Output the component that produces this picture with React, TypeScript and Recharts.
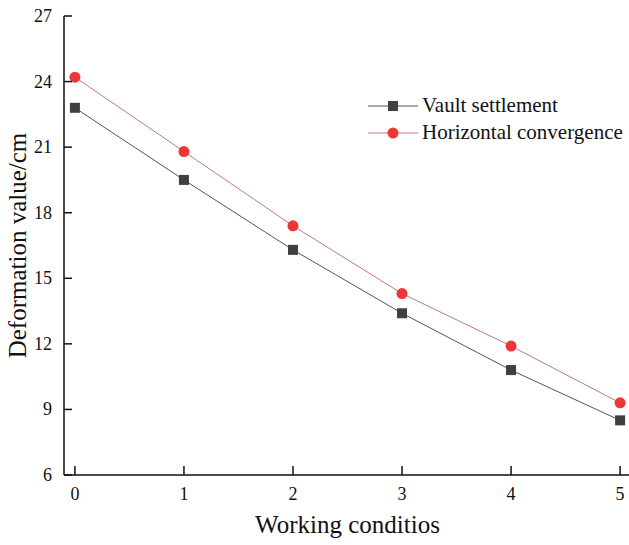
import React from 'react';
import { LineChart, Line, XAxis, YAxis } from 'recharts';

const conditions = [0, 1, 2, 3, 4, 5];
const vaultSettlement = [22.8, 19.5, 16.3, 13.4, 10.8, 8.5];
const horizontalConvergence = [24.2, 20.8, 17.4, 14.3, 11.9, 9.3];
const yTicks = [6, 9, 12, 15, 18, 21, 24, 27];

const data = conditions.map((c, i) => ({
  c,
  vault: vaultSettlement[i],
  horiz: horizontalConvergence[i],
}));

const FONT = '"Liberation Serif", "Times New Roman", serif';
const INK = '#111';
const VAULT_COLOR = '#404040';
const VAULT_LINE = '#555555';
const HORIZ_COLOR = '#ee3636';
const HORIZ_LINE = '#c07a7a';

const SquareDot = (p: any) => (
  <rect key={`sq-${p.index}`} x={p.cx - 5} y={p.cy - 5} width={10} height={10} fill={VAULT_COLOR} />
);

const CircleDot = (p: any) => (
  <circle key={`ci-${p.index}`} cx={p.cx} cy={p.cy} r={5.5} fill={HORIZ_COLOR} />
);

// ticks point into the plot, so draw them ourselves next to the labels
const XTick = (p: any) => (
  <g>
    <line x1={p.x} x2={p.x} y1={p.y - 13} y2={p.y - 22} stroke={INK} strokeWidth={1.5} />
    <text x={p.x} y={p.y + 12} textAnchor="middle" fill={INK} fontSize={18} fontFamily={FONT}>
      {p.payload.value}
    </text>
  </g>
);

const YTick = (p: any) => (
  <g>
    <line x1={p.x + 12} x2={p.x + 20} y1={p.y} y2={p.y} stroke={INK} strokeWidth={1.5} />
    <text x={p.x} y={p.y + 6} textAnchor="end" fill={INK} fontSize={18} fontFamily={FONT}>
      {p.payload.value}
    </text>
  </g>
);

function LegendBox() {
  const rows = [
    { name: 'Vault settlement', line: VAULT_LINE, kind: 'square' },
    { name: 'Horizontal convergence', line: HORIZ_LINE, kind: 'circle' },
  ];
  return (
    <div style={{ position: 'absolute', left: 368, top: 92, fontFamily: FONT, fontSize: 21, color: INK }}>
      {rows.map((r) => (
        <div key={r.name} style={{ display: 'flex', alignItems: 'center', height: 27 }}>
          <svg width={50} height={14} style={{ marginRight: 4 }}>
            <line x1={0} y1={7} x2={50} y2={7} stroke={r.line} strokeWidth={1} />
            {r.kind === 'square' ? (
              <rect x={20} y={2} width={10} height={10} fill={VAULT_COLOR} />
            ) : (
              <circle cx={25} cy={7} r={5.5} fill={HORIZ_COLOR} />
            )}
          </svg>
          <span>{r.name}</span>
        </div>
      ))}
    </div>
  );
}

export default function App() {
  return (
    <div style={{ position: 'absolute', left: 0, top: 0, width: 629, height: 545, overflow: 'hidden', background: '#fff' }}>
      <LineChart width={640} height={545} data={data} margin={{ top: 16, right: 9, left: 0, bottom: 0 }}>
        <XAxis
          dataKey="c"
          type="number"
          domain={[-0.1, 5.1]}
          ticks={conditions}
          height={70}
          tickLine={false}
          tickSize={0}
          tickMargin={13}
          stroke={INK}
          strokeWidth={1.5}
          tick={XTick}
          label={{ value: 'Working conditios', position: 'insideBottom', offset: 12, style: { fill: INK, fontSize: 25, fontFamily: FONT } }}
        />
        <XAxis xAxisId="top" dataKey="c" type="number" domain={[-0.1, 5.1]} orientation="top" height={0} tick={false} tickLine={false} stroke={INK} strokeWidth={1.5} />
        <YAxis
          domain={[6, 27]}
          ticks={yTicks}
          width={64}
          tickLine={false}
          tickSize={0}
          tickMargin={12}
          stroke={INK}
          strokeWidth={1.5}
          tick={YTick}
          label={{ value: 'Deformation value/cm', angle: -90, position: 'insideLeft', offset: 17, style: { textAnchor: 'middle', fill: INK, fontSize: 25, fontFamily: FONT } }}
        />
        <Line dataKey="vault" stroke={VAULT_LINE} strokeWidth={1} dot={SquareDot} activeDot={false} isAnimationActive={false} />
        <Line dataKey="horiz" stroke={HORIZ_LINE} strokeWidth={1} dot={CircleDot} activeDot={false} isAnimationActive={false} />
      </LineChart>
      <LegendBox />
    </div>
  );
}
